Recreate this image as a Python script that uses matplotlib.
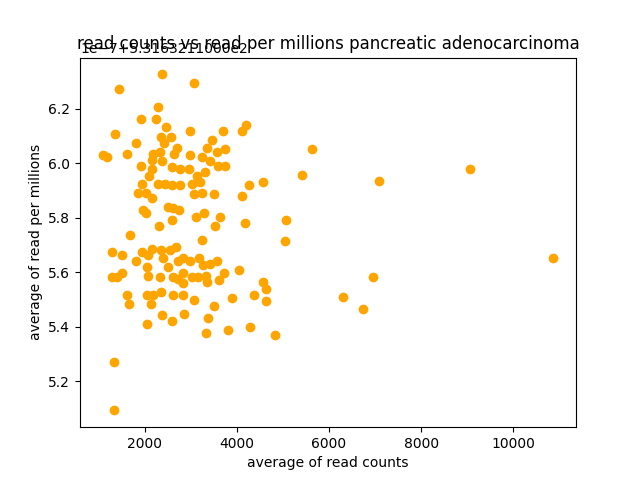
import math

import matplotlib

matplotlib.use("Agg")
import matplotlib.pyplot as plt
from matplotlib.ticker import ScalarFormatter

# average read counts per sample (x) and average read per millions (y, shown as offset ticks)
read_counts = [
    2370, 3065, 1435, 2283, 1913, 2239, 2457, 1348, 2978, 3696,
    4196, 4109, 1804, 2348, 2565, 2413, 3457, 2696, 3348, 3739,
    3565, 1087, 1174, 1609, 2174, 2326, 2630, 2978, 3239, 2370,
    2152, 1913, 2587, 2761, 2957, 3413, 3587, 3739, 2152, 2087,
    3304, 3130, 4261, 4565, 1935, 2283, 2435, 2587, 2761, 3022,
    3196, 1848, 2152, 2022, 3065, 3239, 3500, 4109, 1957, 2022,
    2500, 2609, 2739, 2304, 2587, 3109, 3283, 3630, 3522, 4174,
    1674, 3239, 1283, 1500, 1804, 1935, 2152, 2348, 2065, 2391,
    2543, 2674, 2826, 2978, 2717, 3174, 3261, 3413, 3565, 2043,
    2500, 2326, 2065, 1283, 1391, 1500, 2609, 2717, 2826, 2826,
    3022, 3152, 3326, 3348, 3609, 3717, 4043, 4565, 4630, 1609,
    1652, 2043, 2174, 2348, 2130, 2609, 2826, 3065, 3500, 3891,
    4370, 4630, 2370, 2587, 2848, 2043, 3370, 3326, 3804, 4283,
    5630, 5413, 7087, 9065, 5065, 5043, 6957, 6304, 6739, 10870,
    4826, 1326, 1326,
]
read_per_millions = [
    6.325, 6.292, 6.273, 6.204, 6.163, 6.163, 6.134, 6.105, 6.116, 6.116,
    6.141, 6.116, 6.075, 6.094, 6.094, 6.072, 6.086, 6.057, 6.057, 6.050,
    6.039, 6.028, 6.024, 6.035, 6.032, 6.042, 6.035, 6.028, 6.024, 6.006,
    6.010, 5.988, 5.984, 5.980, 5.977, 6.006, 5.988, 5.991, 5.977, 5.951,
    5.966, 5.951, 5.918, 5.929, 5.922, 5.925, 5.925, 5.918, 5.918, 5.922,
    5.929, 5.892, 5.874, 5.892, 5.885, 5.892, 5.885, 5.878, 5.830, 5.819,
    5.841, 5.837, 5.830, 5.771, 5.790, 5.804, 5.819, 5.804, 5.771, 5.782,
    5.735, 5.720, 5.676, 5.665, 5.640, 5.676, 5.684, 5.680, 5.662, 5.654,
    5.680, 5.691, 5.654, 5.643, 5.640, 5.651, 5.625, 5.629, 5.643, 5.618,
    5.618, 5.581, 5.588, 5.581, 5.581, 5.596, 5.581, 5.574, 5.596, 5.559,
    5.581, 5.581, 5.588, 5.563, 5.570, 5.596, 5.607, 5.563, 5.537, 5.515,
    5.482, 5.515, 5.515, 5.526, 5.482, 5.515, 5.515, 5.500, 5.475, 5.504,
    5.515, 5.493, 5.442, 5.423, 5.449, 5.409, 5.431, 5.379, 5.390, 5.398,
    6.050, 5.955, 5.936, 5.980, 5.793, 5.713, 5.581, 5.511, 5.467, 5.651,
    5.372, 5.273, 5.094,
]
BASE = 531.63211
SCALE = 1e-7


class OldOffsetFormatter(ScalarFormatter):
    # older matplotlib kept the trailing zeros in the offset mantissa
    def get_offset(self):
        if len(self.locs) == 0 or not (self.orderOfMagnitude or self.offset):
            return ""
        sci = "1e%d" % self.orderOfMagnitude if self.orderOfMagnitude else ""
        off = ""
        if self.offset:
            e = math.floor(math.log10(abs(self.offset)))
            s = round(self.offset / 10**e, 10)
            off = ("+" if self.offset > 0 else "") + "%1.10fe%d" % (s, e)
        return self.fix_minus(sci + off)


y_vals = [BASE + v * SCALE for v in read_per_millions]

fig, ax = plt.subplots(figsize=(6.4, 4.8), dpi=100)
ax.scatter(read_counts, y_vals, color="orange")
ax.yaxis.set_major_formatter(OldOffsetFormatter())
ax.set_xlabel("average of read counts")
ax.set_ylabel("average of read per millions")
ax.set_title("read counts vs read per millions pancreatic adenocarcinoma", y=1.0)

plt.savefig("out.png")
plt.close()
